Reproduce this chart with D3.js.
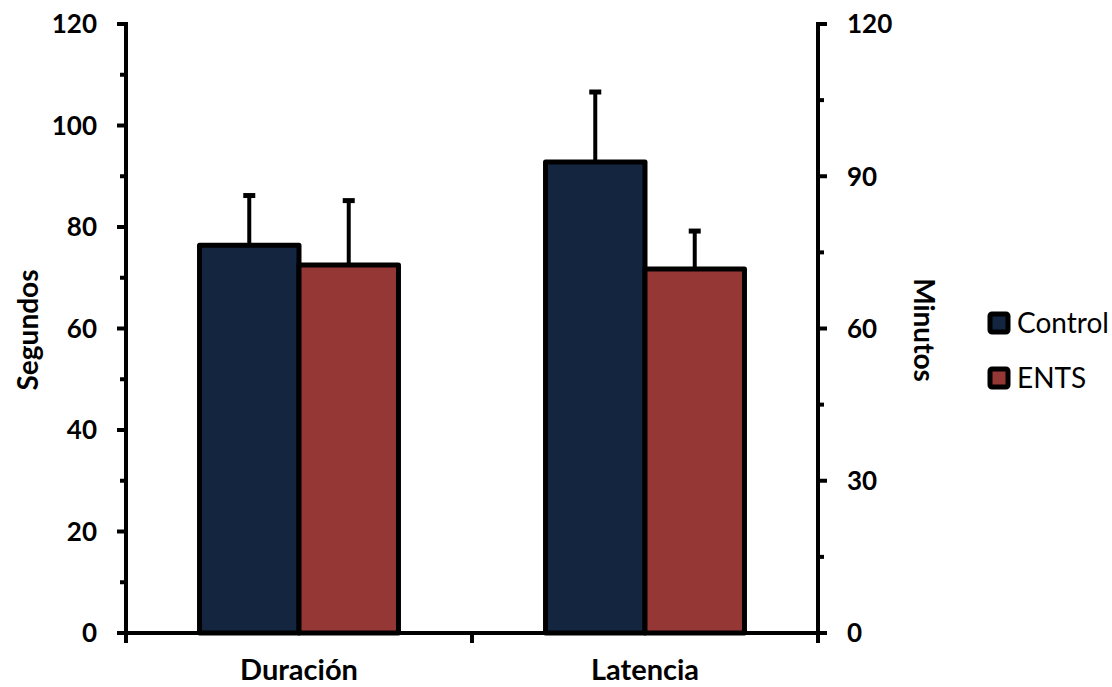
<!DOCTYPE html>
<html>
<head>
<meta charset="utf-8">
<script src="https://cdn.jsdelivr.net/npm/d3@7"></script>
<style>
  body { margin: 0; background: #fff; }
  svg text { font-family: Lato, "Open Sans", sans-serif; }
</style>
</head>
<body>
<div id="chart"></div>
<script>
var categories = ["Duración", "Latencia"];
var series = ["Control", "ENTS"];
var control = [76.4, 92.8];
var controlErr = [9.8, 13.8];
var ents = [72.5, 71.7];
var entsErr = [12.7, 7.5];
var leftTicks = [0, 20, 40, 60, 80, 100, 120];
var rightTicks = [0, 30, 60, 90, 120];

var colors = {Control: "#13253f", ENTS: "#953735"};

var width = 1112, height = 687;
var mLeft = 126, mRight = 818, mTop = 24, mBottom = 633;

var svg = d3.select("#chart").append("svg")
    .attr("width", width)
    .attr("height", height);

var x = d3.scaleBand().domain(categories).range([mLeft, mRight]);
var xs = d3.scaleBand().domain(series)
    .range([0, x.bandwidth() * 0.575])
    .padding(0);
var y = d3.scaleLinear().domain([0, 120]).range([mBottom, mTop]);
var y2 = d3.scaleLinear().domain([0, 120]).range([mBottom, mTop]);

var rows = [];
categories.forEach(function (c, i) {
  rows.push({cat: c, s: "Control", v: control[i], e: controlErr[i]});
  rows.push({cat: c, s: "ENTS", v: ents[i], e: entsErr[i]});
});

function barX(d) {
  return x(d.cat) + (x.bandwidth() - xs.range()[1]) / 2 + xs(d.s);
}

// error bars, drawn under the bars so only the upper half shows
var eb = svg.append("g");
eb.selectAll("line.v").data(rows).enter().append("line")
    .attr("x1", d => barX(d) + xs.bandwidth() / 2)
    .attr("x2", d => barX(d) + xs.bandwidth() / 2)
    .attr("y1", d => y(d.v))
    .attr("y2", d => y(d.v + d.e))
    .attr("stroke", "#000").attr("stroke-width", 4);
eb.selectAll("line.c").data(rows).enter().append("line")
    .attr("x1", d => barX(d) + xs.bandwidth() / 2 - 6)
    .attr("x2", d => barX(d) + xs.bandwidth() / 2 + 6)
    .attr("y1", d => y(d.v + d.e))
    .attr("y2", d => y(d.v + d.e))
    .attr("stroke", "#000").attr("stroke-width", 5);

svg.append("g").selectAll("rect").data(rows).enter().append("rect")
    .attr("x", barX)
    .attr("y", d => y(d.v))
    .attr("width", xs.bandwidth())
    .attr("height", d => y(0) - y(d.v))
    .attr("fill", d => colors[d.s])
    .attr("stroke", "#000")
    .attr("stroke-width", 5)
    .attr("stroke-linejoin", "round");

// left axis
var yMinor = d3.range(10, 120, 20);
var gl = svg.append("g");
gl.append("line").attr("x1", mLeft).attr("x2", mLeft)
    .attr("y1", mTop - 2).attr("y2", mBottom)
    .attr("stroke", "#000").attr("stroke-width", 4);
gl.selectAll("line.maj").data(leftTicks).enter().append("line")
    .attr("x1", mLeft - 9).attr("x2", mLeft)
    .attr("y1", d => y(d)).attr("y2", d => y(d))
    .attr("stroke", "#000").attr("stroke-width", 4);
gl.selectAll("line.min").data(yMinor).enter().append("line")
    .attr("x1", mLeft - 6).attr("x2", mLeft)
    .attr("y1", d => y(d)).attr("y2", d => y(d))
    .attr("stroke", "#000").attr("stroke-width", 4);
gl.selectAll("text").data(leftTicks).enter().append("text")
    .attr("x", mLeft - 29).attr("y", d => y(d))
    .attr("dy", "0.36em")
    .attr("text-anchor", "end")
    .attr("font-size", 26).attr("font-weight", "bold")
    .text(d => d);

// right axis
var y2Minor = d3.range(15, 120, 30);
var gr = svg.append("g");
gr.append("line").attr("x1", mRight).attr("x2", mRight)
    .attr("y1", mTop - 2).attr("y2", mBottom)
    .attr("stroke", "#000").attr("stroke-width", 4);
gr.selectAll("line.maj").data(rightTicks).enter().append("line")
    .attr("x1", mRight).attr("x2", mRight + 9)
    .attr("y1", d => y2(d)).attr("y2", d => y2(d))
    .attr("stroke", "#000").attr("stroke-width", 4);
gr.selectAll("line.min").data(y2Minor).enter().append("line")
    .attr("x1", mRight).attr("x2", mRight + 6)
    .attr("y1", d => y2(d)).attr("y2", d => y2(d))
    .attr("stroke", "#000").attr("stroke-width", 4);
gr.selectAll("text").data(rightTicks).enter().append("text")
    .attr("x", mRight + 29).attr("y", d => y2(d))
    .attr("dy", "0.36em")
    .attr("font-size", 26).attr("font-weight", "bold")
    .text(d => d);

// x axis
var gx = svg.append("g");
gx.append("line").attr("x1", mLeft - 8).attr("x2", mRight + 6)
    .attr("y1", mBottom).attr("y2", mBottom)
    .attr("stroke", "#000").attr("stroke-width", 4);
gx.selectAll("line.t").data([mLeft, mLeft + x.bandwidth(), mRight]).enter().append("line")
    .attr("x1", d => d).attr("x2", d => d)
    .attr("y1", mBottom).attr("y2", mBottom + 10)
    .attr("stroke", "#000").attr("stroke-width", 4);
gx.selectAll("text").data(categories).enter().append("text")
    .attr("x", d => x(d) + x.bandwidth() / 2)
    .attr("y", 680)
    .attr("text-anchor", "middle")
    .attr("font-size", 29).attr("font-weight", "bold")
    .text(d => d);

// axis titles
svg.append("text")
    .attr("transform", "translate(38,330) rotate(-90)")
    .attr("text-anchor", "middle")
    .attr("font-size", 28).attr("font-weight", "bold")
    .text("Segundos");
svg.append("text")
    .attr("transform", "translate(914,330) rotate(90)")
    .attr("text-anchor", "middle")
    .attr("font-size", 28).attr("font-weight", "bold")
    .text("Minutos");

// legend
var lg = svg.append("g").attr("transform", "translate(990,314)");
var li = lg.selectAll("g").data(series).enter().append("g")
    .attr("transform", (d, i) => "translate(0," + i * 55 + ")");
li.append("rect")
    .attr("x", 0).attr("y", 0).attr("width", 18).attr("height", 18)
    .attr("rx", 2)
    .attr("fill", d => colors[d])
    .attr("stroke", "#000").attr("stroke-width", 5);
li.append("text")
    .attr("x", 27).attr("y", 9).attr("dy", "0.36em")
    .attr("font-size", 28)
    .text(d => d);
</script>
</body>
</html>
